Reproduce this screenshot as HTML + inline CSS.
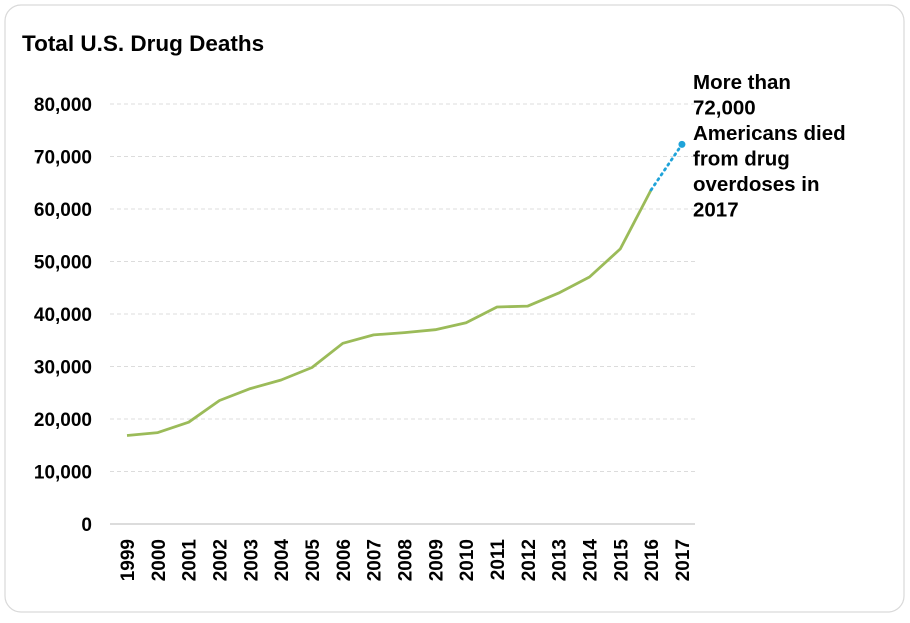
<!DOCTYPE html>
<html><head><meta charset="utf-8"><style>
html,body{margin:0;padding:0;background:#fff;}
body{width:910px;height:618px;overflow:hidden;font-family:"Liberation Sans",Arial,sans-serif;}
</style></head><body>
<svg width="910" height="618" xmlns="http://www.w3.org/2000/svg">
<rect x="5" y="5" width="899" height="607" rx="16" fill="#fff" stroke="#d9d9d9" stroke-width="1.2"/>
<text x="22" y="51" font-size="22.5" font-weight="bold" fill="#000">Total U.S. Drug Deaths</text>
<g id="grid"></g><g id="yt"></g><g id="xt"></g><g id="series"></g>
<text font-size="20.5" font-weight="bold" fill="#000">
<tspan x="693" y="89">More than</tspan><tspan x="693" y="114.5">72,000</tspan><tspan x="693" y="140">Americans died</tspan><tspan x="693" y="165.5">from drug</tspan><tspan x="693" y="191">overdoses in</tspan><tspan x="693" y="216.5">2017</tspan></text>
</svg>
<script>
const years=["1999","2000","2001","2002","2003","2004","2005","2006","2007","2008","2009","2010","2011","2012","2013","2014","2015","2016","2017"];
const deaths=[16849,17415,19394,23518,25785,27424,29813,34425,36010,36450,37004,38329,41340,41502,43982,47055,52404,63632,72306];
const yTicks=[0,10000,20000,30000,40000,50000,60000,70000,80000];
const yTickLabels=["0","10,000","20,000","30,000","40,000","50,000","60,000","70,000","80,000"];
const NS="http://www.w3.org/2000/svg";
const x=i=>127+i*30.83;
const y=v=>524-v*420/80000;
function mk(t,a,p){const e=document.createElementNS(NS,t);for(const k in a)e.setAttribute(k,a[k]);p.appendChild(e);return e;}
const grid=document.getElementById('grid'),yt=document.getElementById('yt'),xt=document.getElementById('xt'),ser=document.getElementById('series');
yTicks.forEach((v,i)=>{
  const l=mk('line',{x1:110,x2:695,y1:y(v),y2:y(v),stroke:v===0?'#d0d0d0':'#dcdcdc','stroke-width':v===0?1.5:1,'stroke-dasharray':v===0?'none':'4,3'},grid);
  
  
  const t=mk('text',{x:92,y:y(v)+7,'text-anchor':'end','font-size':19,'font-weight':'bold',fill:'#000'},yt);
  t.textContent=yTickLabels[i];
  
  
});
years.forEach((yr,i)=>{
  const t=mk('text',{x:0,y:0,'text-anchor':'end','font-size':19,'font-weight':'bold',fill:'#000',transform:`translate(${x(i)+7},539) rotate(-90)`},xt);
  t.textContent=yr;
  
  
});
const n=deaths.length;
const pts=deaths.slice(0,n-1).map((v,i)=>x(i).toFixed(1)+','+y(v).toFixed(1)).join(' ');
const pl=mk('polyline',{points:pts,fill:'none',stroke:'#9bbb59','stroke-width':2.8,'stroke-linejoin':'round'},ser);


const dl=mk('line',{x1:x(n-2),y1:y(deaths[n-2]),x2:x(n-1),y2:y(deaths[n-1]),stroke:'#1fa3d9','stroke-width':2.8,'stroke-dasharray':'1.5,4.5','stroke-linecap':'round'},ser);


const c=mk('circle',{cx:x(n-1),cy:y(deaths[n-1]),r:3.5,fill:'#1fa3d9'},ser);


</script>
</body></html>
